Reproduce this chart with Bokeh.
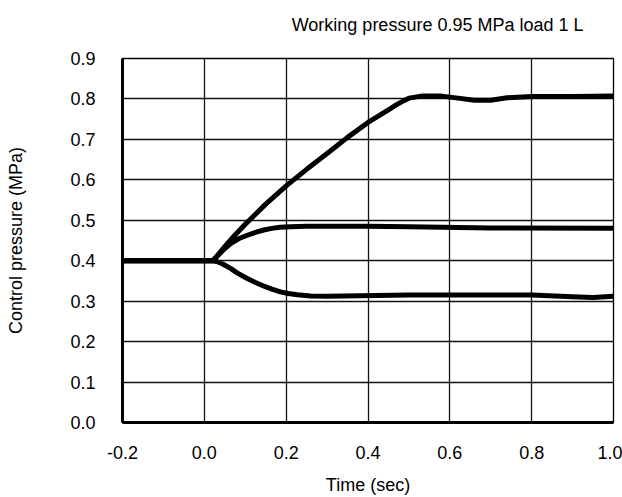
from bokeh.plotting import figure
from bokeh.models import Range1d, FixedTicker, NumeralTickFormatter, Title
from bokeh.embed import file_html
from bokeh.resources import INLINE

# ---- data ----
title_text = "Working pressure 0.95 MPa load 1 L"
x_label = "Time (sec)"
y_label = "Control pressure (MPa)"

x_ticks = [-0.2, 0.0, 0.2, 0.4, 0.6, 0.8, 1.0]
y_ticks = [0.0, 0.1, 0.2, 0.3, 0.4, 0.5, 0.6, 0.7, 0.8, 0.9]

upper_t = [-0.2, 0.02, 0.03, 0.05, 0.07, 0.1, 0.12, 0.15, 0.17, 0.2, 0.25, 0.3, 0.35, 0.4, 0.45,
           0.47, 0.49, 0.5, 0.53, 0.58, 0.62, 0.66, 0.7, 0.74, 0.8, 0.9, 1.0]
upper_p = [0.4, 0.4, 0.41, 0.435, 0.458, 0.49, 0.51, 0.54, 0.558, 0.585, 0.626, 0.665, 0.705, 0.742, 0.773,
           0.786, 0.797, 0.802, 0.807, 0.807, 0.802, 0.797, 0.797, 0.803, 0.806, 0.806, 0.807]

middle_t = [-0.2, 0.02, 0.03, 0.05, 0.065, 0.085, 0.105, 0.125, 0.145, 0.165, 0.185, 0.21, 0.25, 0.4, 0.5, 0.7, 1.0]
middle_p = [0.4, 0.4, 0.41, 0.43, 0.443, 0.455, 0.463, 0.47, 0.476, 0.48, 0.483, 0.484, 0.485, 0.485, 0.484, 0.481, 0.480]

lower_t = [-0.2, 0.02, 0.03, 0.045, 0.064, 0.08, 0.105, 0.125, 0.146, 0.165, 0.186, 0.205, 0.227, 0.26, 0.3,
           0.5, 0.8, 0.9, 0.95, 1.0]
lower_p = [0.4, 0.4, 0.398, 0.392, 0.381, 0.37, 0.356, 0.346, 0.337, 0.33, 0.323, 0.319, 0.316, 0.313, 0.312,
           0.315, 0.315, 0.311, 0.309, 0.312]

FONT = "Liberation Sans"

p = figure(width=622, height=497, output_backend="svg", toolbar_location=None,
           x_range=Range1d(-0.2, 1.0), y_range=Range1d(0.0, 0.9),
           min_border_left=122, min_border_right=9, min_border_top=57, min_border_bottom=74)
p.background_fill_color = "white"
p.border_fill_color = "white"
p.outline_line_color = "#000000"
p.outline_line_width = 1.3

p.title.text = title_text
p.title.align = "right"
p.title.offset = 30
p.title.standoff = 25
p.title.text_font = FONT
p.title.text_font_size = "18px"
p.title.text_font_style = "normal"
p.title.text_color = "#000000"

# thin spacer between the title and the plot frame
p.add_layout(Title(text=" ", text_font_size="1px", standoff=8), "above")

for ax in (p.xaxis[0], p.yaxis[0]):
    ax.axis_line_color = "#000000"
    ax.axis_line_width = 3
    ax.major_tick_line_color = None
    ax.minor_tick_line_color = None
    ax.major_tick_in = 0
    ax.major_tick_out = 0
    ax.minor_tick_in = 0
    ax.minor_tick_out = 0
    ax.major_label_text_font = FONT
    ax.major_label_text_font_size = "18px"
    ax.major_label_text_color = "#000000"
    ax.formatter = NumeralTickFormatter(format="0.0")
    ax.axis_label_text_font = FONT
    ax.axis_label_text_font_size = "18px"
    ax.axis_label_text_font_style = "normal"
    ax.axis_label_text_color = "#000000"

p.xaxis[0].ticker = FixedTicker(ticks=x_ticks)
p.yaxis[0].ticker = FixedTicker(ticks=y_ticks)
p.xaxis[0].major_label_standoff = 23
p.yaxis[0].major_label_standoff = 27

p.yaxis[0].axis_label = y_label
p.yaxis[0].axis_label_standoff = 41
p.xaxis[0].axis_label = x_label
p.xaxis[0].axis_label_standoff = 13

p.xgrid[0].ticker = FixedTicker(ticks=x_ticks)
p.ygrid[0].ticker = FixedTicker(ticks=y_ticks)
for g in (p.xgrid[0], p.ygrid[0]):
    g.grid_line_color = "#111111"
    g.grid_line_width = 1.3

for t, v in ((upper_t, upper_p), (middle_t, middle_p), (lower_t, lower_p)):
    p.line(t, v, line_color="#000000", line_width=5, line_cap="round", line_join="round")

open("out.html", "w").write(file_html(p, INLINE))
